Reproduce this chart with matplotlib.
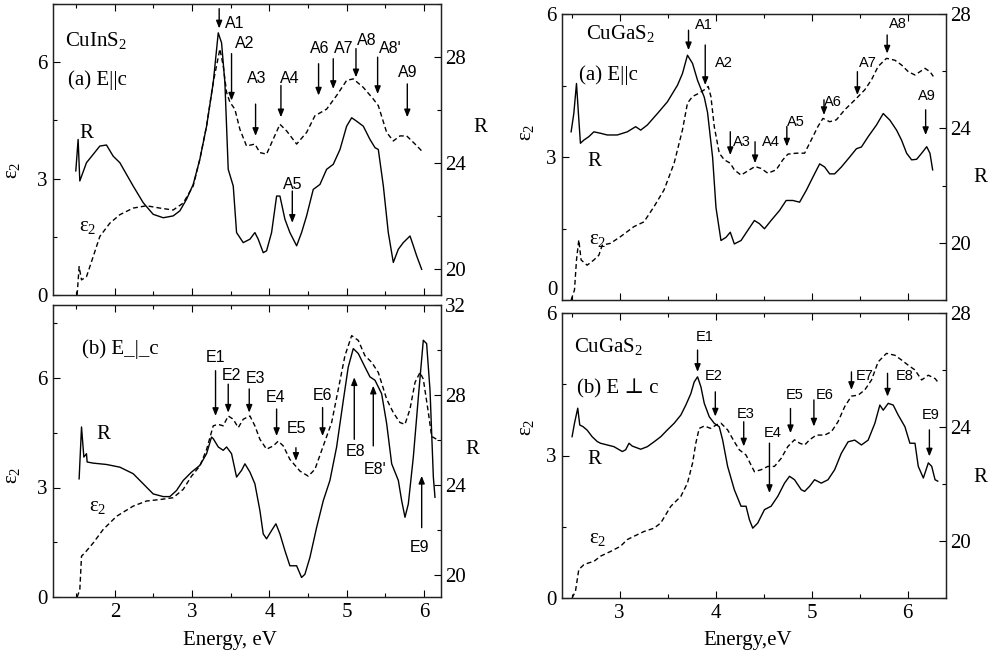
import matplotlib
matplotlib.use("Agg")
import matplotlib.pyplot as plt
from matplotlib.ticker import MultipleLocator, FuncFormatter

plt.rcParams['font.family'] = ['Liberation Serif', 'DejaVu Serif']
plt.rcParams['mathtext.fontset'] = 'custom'
plt.rcParams['mathtext.rm'] = 'Liberation Serif'
plt.rcParams['mathtext.it'] = 'Liberation Serif:italic'
plt.rcParams['mathtext.bf'] = 'Liberation Serif:bold'

# ---------------- DATA ----------------
# CuInS2, E || c
cis_a_R_E = [1.495, 1.525, 1.547, 1.633, 1.806, 1.892, 1.978, 2.065, 2.237, 2.367, 2.496, 2.626, 2.755, 2.841,
             2.928, 3.014, 3.100, 3.187, 3.273, 3.338, 3.381, 3.424, 3.467, 3.532, 3.575, 3.661, 3.748, 3.812,
             3.855, 3.920, 3.963, 4.028, 4.093, 4.136, 4.201, 4.265, 4.352, 4.416, 4.481, 4.567, 4.654, 4.740,
             4.826, 4.913, 4.999, 5.064, 5.128, 5.215, 5.301, 5.366, 5.409, 5.474, 5.538, 5.603, 5.668, 5.732,
             5.819, 5.862, 5.905, 5.970]
cis_a_R = [23.69, 24.88, 23.31, 24.0, 24.63, 24.67, 24.25, 24.0, 23.12, 22.49, 22.05, 21.92, 21.99, 22.18,
           22.62, 23.18, 24.13, 25.38, 27.02, 28.91, 28.53, 27.02, 23.75, 23.12, 21.36, 20.98, 21.11, 21.36,
           21.11, 20.60, 20.67, 21.36, 22.74, 22.74, 21.86, 21.36, 20.86, 21.36, 21.99, 22.99, 23.18, 23.75,
           23.94, 24.50, 25.38, 25.70, 25.57, 25.38, 24.88, 24.57, 24.50, 23.12, 21.36, 20.23, 20.73, 20.98,
           21.23, 20.86, 20.48, 19.97]
cis_a_eps_E = [1.512, 1.538, 1.569, 1.633, 1.720, 1.806, 1.935, 2.065, 2.237, 2.410, 2.583, 2.755, 2.885,
               3.014, 3.100, 3.187, 3.273, 3.359, 3.402, 3.446, 3.489, 3.553, 3.618, 3.704, 3.812, 3.877,
               3.963, 4.050, 4.136, 4.222, 4.352, 4.481, 4.589, 4.740, 4.869, 4.999, 5.085, 5.215, 5.344,
               5.409, 5.517, 5.603, 5.689, 5.776, 5.905, 5.991]
cis_a_eps = [0.0, 0.73, 0.39, 0.47, 0.99, 1.51, 1.85, 2.07, 2.24, 2.30, 2.24, 2.19, 2.37, 2.81, 3.50, 4.36,
             5.48, 6.34, 5.91, 5.22, 4.97, 4.79, 4.27, 3.84, 3.89, 3.67, 3.63, 4.02, 4.40, 4.23, 3.89, 4.19,
             4.62, 4.79, 5.14, 5.53, 5.57, 5.35, 5.05, 4.88, 4.19, 3.97, 4.10, 4.10, 3.85, 3.67]
cis_a_labels = ['A1', 'A2', 'A3', 'A4', 'A5', 'A6', 'A7', 'A8', "A8'", 'A9']
cis_a_energies = [3.350, 3.510, 3.821, 4.149, 4.296, 4.636, 4.826, 5.120, 5.400, 5.784]

# CuInS2, E _|_ c
cis_b_R_E = [1.538, 1.569, 1.599, 1.633, 1.642, 1.720, 1.892, 2.065, 2.237, 2.367, 2.496, 2.626, 2.712, 2.798,
             2.885, 2.992, 3.100, 3.187, 3.251, 3.273, 3.338, 3.402, 3.446, 3.510, 3.575, 3.640, 3.683, 3.748,
             3.812, 3.877, 3.920, 3.963, 4.028, 4.084, 4.136, 4.201, 4.265, 4.352, 4.416, 4.459, 4.524, 4.611,
             4.697, 4.783, 4.869, 4.956, 5.020, 5.085, 5.150, 5.236, 5.301, 5.366, 5.452, 5.517, 5.582, 5.668,
             5.711, 5.754, 5.797, 5.862, 5.927, 5.991, 6.034, 6.078, 6.121, 6.142]
cis_b_R = [24.26, 26.57, 25.23, 25.38, 25.01, 24.96, 24.90, 24.78, 24.49, 24.04, 23.59, 23.47, 23.47, 23.74,
           24.19, 24.56, 24.86, 25.38, 26.12, 26.05, 25.68, 25.53, 25.68, 25.38, 24.34, 24.64, 24.93, 24.56,
           24.04, 22.85, 21.81, 21.59, 21.96, 22.26, 21.81, 21.06, 20.39, 20.39, 19.87, 20.01, 20.76, 22.10,
           23.29, 24.19, 25.67, 27.75, 29.24, 30.06, 29.84, 29.24, 28.80, 28.65, 28.05, 26.72, 24.93, 24.19,
           23.29, 22.55, 23.14, 25.23, 27.90, 30.43, 30.28, 28.20, 24.34, 23.44]
cis_b_eps_E = [1.512, 1.547, 1.569, 1.612, 1.720, 1.849, 2.022, 2.237, 2.410, 2.583, 2.755, 2.885, 2.992,
               3.100, 3.187, 3.273, 3.338, 3.402, 3.467, 3.532, 3.597, 3.661, 3.748, 3.812, 3.877, 3.963,
               4.050, 4.114, 4.179, 4.265, 4.395, 4.503, 4.589, 4.697, 4.805, 4.891, 4.977, 5.064, 5.150,
               5.236, 5.323, 5.409, 5.517, 5.603, 5.689, 5.754, 5.819, 5.884, 5.948, 5.991, 6.056, 6.099, 6.164]
cis_b_eps = [0.0, 0.20, 1.12, 1.21, 1.48, 1.85, 2.21, 2.49, 2.63, 2.67, 2.72, 2.95, 3.31, 3.59, 4.04, 4.69,
             4.73, 4.69, 4.96, 4.87, 4.64, 4.87, 4.96, 4.69, 4.32, 4.05, 4.14, 4.27, 4.14, 3.77, 3.45, 3.31,
             3.50, 4.14, 4.78, 5.69, 6.61, 7.16, 7.03, 6.61, 6.43, 6.15, 5.42, 5.05, 4.78, 4.73, 5.15, 5.88,
             6.15, 5.97, 5.06, 4.40, 4.32]
cis_b_labels = ['E1', 'E2', 'E3', 'E4', 'E5', 'E6', 'E8', "E8'", 'E9']
cis_b_energies = [3.303, 3.467, 3.739, 4.093, 4.343, 4.688, 5.098, 5.344, 5.970]

# CuGaS2, E || c
cgs_a_R_E = [2.495, 2.523, 2.551, 2.571, 2.592, 2.627, 2.679, 2.732, 2.801, 2.871, 2.976, 3.080, 3.167, 3.220,
             3.289, 3.394, 3.498, 3.603, 3.655, 3.707, 3.760, 3.812, 3.882, 3.916, 3.969, 4.004, 4.056, 4.108,
             4.153, 4.195, 4.265, 4.334, 4.404, 4.456, 4.509, 4.578, 4.666, 4.735, 4.805, 4.875, 4.944, 5.014,
             5.084, 5.136, 5.188, 5.240, 5.310, 5.397, 5.467, 5.519, 5.589, 5.676, 5.746, 5.815, 5.885, 5.937,
             5.990, 6.042, 6.094, 6.146, 6.199, 6.233, 6.261]
cgs_a_R = [23.88, 24.52, 25.57, 24.52, 23.48, 23.59, 23.71, 23.88, 23.83, 23.77, 23.77, 23.88, 24.06, 23.94,
           24.12, 24.52, 24.93, 25.51, 25.92, 26.56, 26.27, 25.68, 25.09, 24.56, 22.98, 21.23, 20.08, 20.19,
           20.37, 19.96, 20.08, 20.43, 20.78, 20.67, 20.49, 20.78, 21.13, 21.48, 21.48, 21.42, 21.83, 22.30,
           22.76, 22.65, 22.41, 22.41, 22.65, 23.00, 23.29, 23.35, 23.71, 24.12, 24.52, 24.29, 23.94, 23.59,
           23.13, 22.90, 22.92, 23.13, 23.36, 23.13, 22.55]
cgs_a_eps_E = [2.495, 2.530, 2.551, 2.575, 2.599, 2.662, 2.732, 2.784, 2.819, 2.906, 3.010, 3.150, 3.254,
               3.359, 3.463, 3.568, 3.655, 3.707, 3.760, 3.829, 3.882, 3.923, 3.951, 3.986, 4.038, 4.091,
               4.153, 4.195, 4.265, 4.352, 4.411, 4.474, 4.544, 4.631, 4.700, 4.753, 4.840, 4.927, 4.997,
               5.066, 5.118, 5.188, 5.258, 5.345, 5.467, 5.554, 5.624, 5.693, 5.780, 5.868, 5.937, 6.007,
               6.077, 6.129, 6.181, 6.233, 6.268]
cgs_a_eps = [0.0, 0.21, 0.84, 1.26, 0.84, 0.73, 0.84, 0.94, 1.15, 1.19, 1.33, 1.54, 1.64, 1.96, 2.31, 2.87,
             3.57, 4.13, 4.27, 4.34, 4.41, 4.48, 4.27, 3.64, 3.08, 2.94, 2.87, 2.73, 2.62, 2.73, 2.80, 2.76,
             2.66, 2.73, 2.94, 3.06, 3.08, 3.08, 3.36, 3.64, 3.81, 3.74, 3.78, 3.99, 4.23, 4.41, 4.62, 4.90,
             5.07, 5.03, 4.93, 4.79, 4.72, 4.79, 4.86, 4.79, 4.69]
cgs_a_labels = ['A1', 'A2', 'A3', 'A4', 'A5', 'A6', 'A7', 'A8', 'A9']
cgs_a_energies = [3.718, 3.892, 4.153, 4.411, 4.742, 5.129, 5.477, 5.787, 6.188]

# CuGaS2, E ⊥ c
cgs_b_R_E = [2.505, 2.530, 2.564, 2.585, 2.620, 2.662, 2.714, 2.767, 2.801, 2.871, 2.941, 3.028, 3.063, 3.098,
             3.132, 3.220, 3.289, 3.359, 3.429, 3.498, 3.568, 3.638, 3.690, 3.742, 3.777, 3.812, 3.847, 3.882,
             3.934, 3.986, 4.038, 4.073, 4.125, 4.195, 4.265, 4.317, 4.352, 4.387, 4.439, 4.509, 4.578, 4.648,
             4.718, 4.770, 4.822, 4.892, 4.927, 4.979, 5.031, 5.101, 5.171, 5.240, 5.310, 5.380, 5.449, 5.519,
             5.589, 5.659, 5.711, 5.746, 5.798, 5.850, 5.902, 5.972, 6.024, 6.077, 6.111, 6.164, 6.216, 6.251,
             6.286, 6.314]
cgs_b_R = [23.66, 24.13, 24.66, 24.07, 24.01, 23.89, 23.66, 23.49, 23.43, 23.37, 23.31, 23.14, 23.20, 23.43,
           23.33, 23.22, 23.31, 23.48, 23.66, 23.90, 24.13, 24.42, 24.77, 25.17, 25.58, 25.76, 25.41, 24.83,
           24.36, 24.13, 24.01, 23.55, 22.62, 21.80, 21.22, 21.22, 20.75, 20.45, 20.63, 21.10, 21.22, 21.57,
           22.03, 22.27, 22.15, 21.80, 21.74, 21.92, 22.15, 22.03, 22.15, 22.50, 23.08, 23.48, 23.54, 23.37,
           23.54, 24.13, 24.77, 24.59, 24.83, 24.77, 24.42, 24.01, 23.43, 23.43, 22.62, 22.21, 22.74, 22.62,
           22.15, 22.10]
cgs_b_eps_E = [2.505, 2.540, 2.575, 2.627, 2.679, 2.732, 2.801, 2.906, 3.010, 3.080, 3.150, 3.254, 3.359,
               3.429, 3.533, 3.638, 3.707, 3.760, 3.794, 3.829, 3.882, 3.951, 4.003, 4.056, 4.125, 4.195,
               4.247, 4.317, 4.369, 4.404, 4.474, 4.544, 4.613, 4.683, 4.753, 4.822, 4.875, 4.927, 4.979,
               5.049, 5.136, 5.206, 5.275, 5.345, 5.415, 5.484, 5.554, 5.624, 5.693, 5.780, 5.868, 5.937,
               6.007, 6.077, 6.146, 6.216, 6.286, 6.314]
cgs_b_eps = [0.0, 0.14, 0.60, 0.70, 0.74, 0.77, 0.88, 0.98, 1.09, 1.23, 1.30, 1.40, 1.47, 1.58, 1.93, 2.14,
             2.42, 2.84, 3.26, 3.57, 3.62, 3.57, 3.64, 3.68, 3.54, 3.29, 3.12, 3.01, 2.80, 2.66, 2.70, 2.77,
             2.77, 2.94, 3.19, 3.33, 3.26, 3.22, 3.33, 3.43, 3.43, 3.50, 3.71, 4.03, 4.25, 4.27, 4.38, 4.59,
             4.97, 5.15, 5.11, 5.01, 4.90, 4.80, 4.59, 4.69, 4.62, 4.55]
cgs_b_labels = ['E1', 'E2', 'E3', 'E4', 'E5', 'E6', 'E7', 'E8', 'E9']
cgs_b_energies = [3.812, 3.997, 4.293, 4.561, 4.780, 5.024, 5.415, 5.791, 6.227]

# ---------------- LAYOUT (annotation geometry) ----------------
# (tail eps, tip eps, label x, label y) per arrow
cis_a_geom = [(7.38, 6.87, 3.553, 7.0), (6.22, 5.01, 3.683, 6.48), (4.92, 4.10, 3.834, 5.57),
              (5.40, 4.58, 4.265, 5.57), (2.68, 1.86, 4.300, 2.85), (5.96, 5.14, 4.654, 6.35),
              (6.09, 5.31, 4.956, 6.35), (6.35, 5.61, 5.258, 6.56), (6.13, 5.18, 5.560, 6.35),
              (5.44, 4.58, 5.784, 5.74)]
cis_b_geom = [(6.20, 4.96, 3.303, 6.57), (5.83, 5.05, 3.510, 6.06), (5.70, 5.05, 3.825, 5.99),
              (5.15, 4.41, 4.084, 5.47), (4.09, 3.73, 4.352, 4.62), (5.19, 4.41, 4.688, 5.51),
              (4.32, 6.02, 5.115, 4.00), (4.14, 5.79, 5.366, 3.50), (1.90, 3.32, 5.940, 1.35)]
cgs_a_geom = [(5.66, 5.24, 3.882, 5.77), (5.35, 4.51, 4.084, 4.97), (3.53, 3.04, 4.272, 3.32),
              (3.32, 2.87, 4.571, 3.32), (3.64, 3.22, 4.840, 3.74), (4.20, 3.88, 5.223, 4.16),
              (4.79, 4.30, 5.582, 4.97), (5.56, 5.17, 5.902, 5.80), (3.99, 3.46, 6.199, 4.27)]
cgs_b_geom = [(5.22, 4.76, 3.882, 5.50), (4.34, 3.82, 3.979, 4.67), (3.71, 3.19, 4.310, 3.87),
              (3.26, 2.21, 4.596, 3.47), (3.99, 3.47, 4.829, 4.27), (4.17, 3.61, 5.136, 4.27),
              (4.76, 4.38, 5.554, 4.67), (4.73, 4.24, 5.972, 4.67), (3.54, 2.98, 6.240, 3.85)]

W, H = 989, 661
fig = plt.figure(figsize=(W / 100, H / 100), dpi=100)


def px_rect(x0, y0, x1, y1):
    return [x0 / W, 1 - y1 / H, (x1 - x0) / W, (y1 - y0) / H]


FS = 15
LW = 1.0
DASH = (0, (3.5, 2.2))


def setup(ax, axr, xlim, ylim, rlim, show_xlabels, hide_zero=False):
    ax.set_xlim(*xlim)
    ax.set_ylim(*ylim)
    axr.set_ylim(*rlim)
    ax.xaxis.set_major_locator(MultipleLocator(1))
    ax.xaxis.set_minor_locator(MultipleLocator(0.5))
    ax.yaxis.set_major_locator(MultipleLocator(3))
    ax.yaxis.set_minor_locator(MultipleLocator(1.5))
    if hide_zero:
        ax.yaxis.set_major_formatter(FuncFormatter(lambda v, p: '' if abs(v) < 1e-9 else '%g' % v))
    axr.yaxis.set_major_locator(MultipleLocator(4))
    axr.yaxis.set_minor_locator(MultipleLocator(2))
    ax.tick_params(which='both', direction='in', top=True, right=False, labelsize=FS, pad=4,
                   labelbottom=show_xlabels, width=0.8)
    ax.tick_params(which='major', length=5)
    ax.tick_params(which='minor', length=3)
    axr.tick_params(which='both', direction='in', labelsize=FS, pad=3, width=0.8)
    axr.tick_params(which='major', length=5)
    axr.tick_params(which='minor', length=3)
    for a in (ax, axr):
        for s in a.spines.values():
            s.set_linewidth(0.9)
            s.set_color('#222222')


def arrows(ax, energies, labels, geom, fs):
    for e, lab, (tail, tip, lx, ly) in zip(energies, labels, geom):
        ax.annotate('', xy=(e, tip), xytext=(e, tail),
                    arrowprops=dict(arrowstyle='-|>,head_length=0.45,head_width=0.18',
                                    lw=1.0, color='k', shrinkA=0, shrinkB=0, mutation_scale=10))
        ax.text(lx, ly, lab, ha='center', va='center', fontsize=fs,
                family=['Liberation Sans', 'DejaVu Sans'])


panels = [
    dict(rect=px_rect(53, 4, 441, 295), xlim=(1.2, 6.22), ylim=(0, 7.5), rlim=(19, 30),
         RE=cis_a_R_E, R=cis_a_R, EE=cis_a_eps_E, EPS=cis_a_eps,
         en=cis_a_energies, lab=cis_a_labels, geom=cis_a_geom, xl=False, afs=11.5, hz=False),
    dict(rect=px_rect(53, 305, 441, 597), xlim=(1.2, 6.22), ylim=(0, 8), rlim=(19, 32),
         RE=cis_b_R_E, R=cis_b_R, EE=cis_b_eps_E, EPS=cis_b_eps,
         en=cis_b_energies, lab=cis_b_labels, geom=cis_b_geom, xl=True, afs=11.5, hz=False),
    dict(rect=px_rect(562, 14, 946, 300), xlim=(2.4, 6.4), ylim=(0, 6), rlim=(18, 28),
         RE=cgs_a_R_E, R=cgs_a_R, EE=cgs_a_eps_E, EPS=cgs_a_eps,
         en=cgs_a_energies, lab=cgs_a_labels, geom=cgs_a_geom, xl=False, afs=10.5, hz=True),
    dict(rect=px_rect(562, 313, 946, 598), xlim=(2.4, 6.4), ylim=(0, 6), rlim=(18, 28),
         RE=cgs_b_R_E, R=cgs_b_R, EE=cgs_b_eps_E, EPS=cgs_b_eps,
         en=cgs_b_energies, lab=cgs_b_labels, geom=cgs_b_geom, xl=True, afs=10.5, hz=False),
]

axes = []
for p in panels:
    ax = fig.add_axes(p['rect'])
    axr = ax.twinx()
    setup(ax, axr, p['xlim'], p['ylim'], p['rlim'], p['xl'], p['hz'])
    ax.plot(p['EE'], p['EPS'], color='k', lw=LW, linestyle=DASH)
    axr.plot(p['RE'], p['R'], color='k', lw=LW)
    arrows(ax, p['en'], p['lab'], p['geom'], p['afs'])
    axes.append(ax)

# in-panel texts
a0, a1, a2, a3 = axes
a0.text(1.353, 6.56, 'CuInS$_2$', fontsize=FS, va='center', ha='left')
a0.text(1.396, 5.53, '(a) E||c', fontsize=FS, va='center', ha='left')
a0.text(1.633, 4.15, 'R', fontsize=FS, va='center', ha='center')
a0.text(1.655, 1.77, 'ε$_2$', fontsize=FS, va='center', ha='center')

a1.text(1.569, 6.79, '(b) E_|_c', fontsize=FS, va='center', ha='left')
a1.text(1.849, 4.46, 'R', fontsize=FS, va='center', ha='center')
a1.text(1.784, 2.49, 'ε$_2$', fontsize=FS, va='center', ha='center')

a2.text(2.645, 5.59, 'CuGaS$_2$', fontsize=FS, va='center', ha='left')
a2.text(2.575, 4.72, '(a) E||c', fontsize=FS, va='center', ha='left')
a2.text(2.732, 2.90, 'R', fontsize=FS, va='center', ha='center')
a2.text(2.767, 1.26, 'ε$_2$', fontsize=FS, va='center', ha='center')
# zero label of the upper right panel, raised slightly so it clears the "6" below
a2.text(-0.012, 0.0, '0', transform=a2.transAxes, fontsize=FS, ha='right', va='bottom')

a3.text(2.523, 5.29, 'CuGaS$_2$', fontsize=FS, va='center', ha='left')
a3.text(2.558, 4.41, '(b) E ⊥ c', fontsize=FS, va='center', ha='left',
        family=['Liberation Serif', 'DejaVu Serif'])
a3.text(2.732, 2.91, 'R', fontsize=FS, va='center', ha='center')
a3.text(2.767, 1.26, 'ε$_2$', fontsize=FS, va='center', ha='center')

# axis labels
for (x, y) in [(13, 170), (13, 475), (527, 132), (527, 427)]:
    fig.text(x / W, 1 - y / H, 'ε$_2$', rotation=90, fontsize=FS, ha='center', va='center')
for (x, y) in [(480, 127), (472, 450), (980, 178), (980, 477)]:
    fig.text(x / W, 1 - y / H, 'R', fontsize=FS, ha='center', va='center')
fig.text(230 / W, 1 - 640 / H, 'Energy, eV', fontsize=FS, ha='center', va='center')
fig.text(748 / W, 1 - 640 / H, 'Energy,eV', fontsize=FS, ha='center', va='center')

fig.savefig('out.png', dpi=100)
